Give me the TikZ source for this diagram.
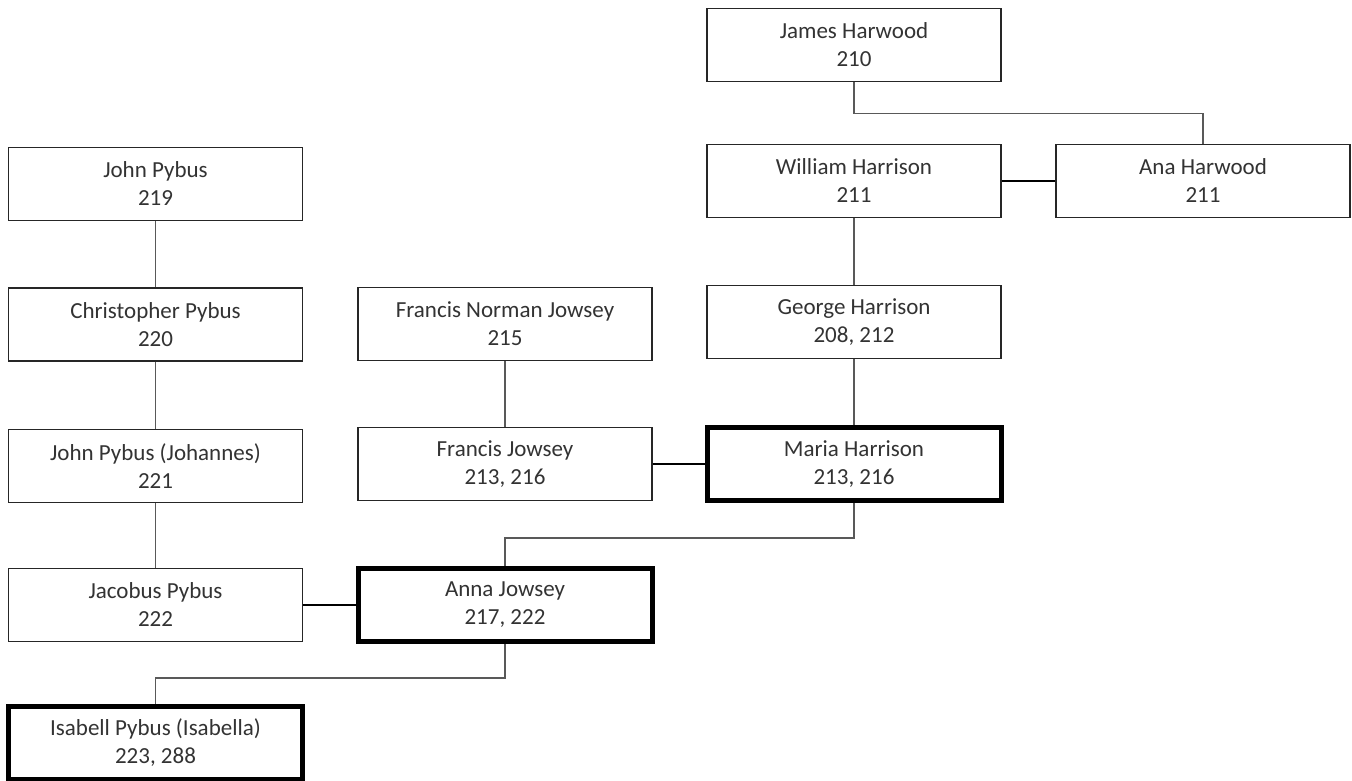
\documentclass[tikz,border=0pt]{standalone}
\usepackage{fontspec}
\setmainfont{Carlito}
\begin{document}
\begin{tikzpicture}[x=1pt,y=-1pt,
  person/.style={draw=black!85, line width=1.4pt, fill=white, minimum width=294pt, minimum height=73pt, inner sep=0pt, align=center, font=\fontsize{23}{28}\selectfont, text=black!80},
  focus/.style={person, draw=black, line width=5pt},
  link/.style={draw=black!65, line width=1.4pt},
  spouse/.style={draw=black, line width=2.4pt}]
\useasboundingbox (0,0) rectangle (1352,780);
\node[person] (james) at (854,45) {James Harwood\\210};
\node[person] (william) at (854,181) {William Harrison\\211};
\node[person] (ana) at (1203,181) {Ana Harwood\\211};
\node[person] (john) at (155.5,184) {John Pybus\\219};
\node[person] (chris) at (155.5,324.5) {Christopher Pybus\\220};
\node[person] (fnj) at (505,324) {Francis Norman Jowsey\\215};
\node[person] (george) at (854,322) {George Harrison\\208, 212};
\node[person] (johannes) at (155.5,466) {John Pybus (Johannes)\\221};
\node[person] (fjowsey) at (505,464) {Francis Jowsey\\213, 216};
\node[focus] (maria) at (854,464) {Maria Harrison\\213, 216};
\node[person] (jacobus) at (155.5,605) {Jacobus Pybus\\222};
\node[focus] (anna) at (505,605) {Anna Jowsey\\217, 222};
\node[focus] (isabell) at (155.5,743) {Isabell Pybus (Isabella)\\223, 288};
\draw[link] (john.south) -- (chris.north);
\draw[link] (chris.south) -- (johannes.north);
\draw[link] (johannes.south) -- (jacobus.north);
\draw[link] (fnj.south) -- (fjowsey.north);
\draw[link] (william.south) -- (george.north);
\draw[link] (george.south) -- (maria.north);
\draw[link] (james.south) -- ++(0,31) -| (ana.north);
\draw[link] (maria.south) -- ++(0,35) -| (anna.north);
\draw[link] (anna.south) -- ++(0,34) -| (isabell.north);
\draw[spouse] (william.east) -- (ana.west);
\draw[spouse] (fjowsey.east) -- (maria.west);
\draw[spouse] (jacobus.east) -- (anna.west);
\end{tikzpicture}
\end{document}
